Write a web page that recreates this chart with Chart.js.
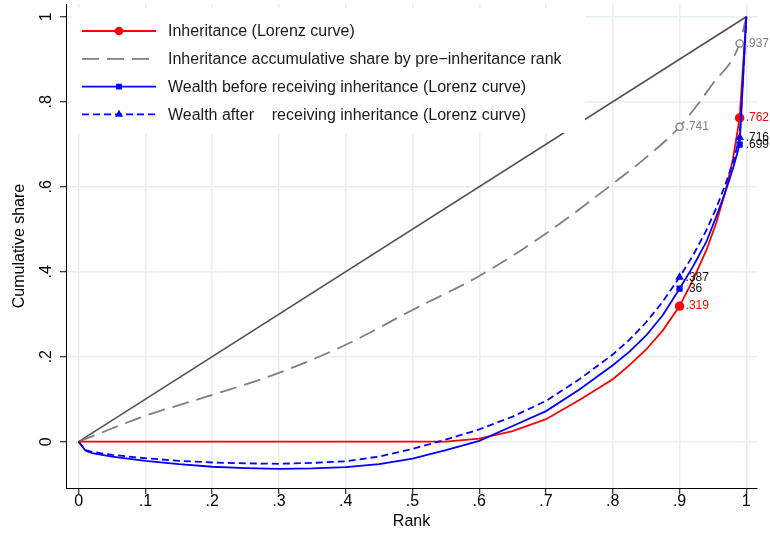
<!DOCTYPE html>
<html><head><meta charset="utf-8">
<script src="https://cdn.jsdelivr.net/npm/chart.js@4/dist/chart.umd.min.js"></script>
<style>html,body{margin:0;padding:0;background:#fff}#wrap{width:770px;height:537px}</style>
</head><body><div id="wrap"><canvas id="c" width="770" height="537"></canvas></div>
<script>
// ---- data ----
const xTicks = [0, 0.1, 0.2, 0.3, 0.4, 0.5, 0.6, 0.7, 0.8, 0.9, 1];
const yTicks = [0, 0.2, 0.4, 0.6, 0.8, 1];
const markerRanks = [0.9, 0.99];

const equalityRank  = [0, 1];
const equalityShare = [0, 1];

const inhRank  = [0, 0.55, 0.6, 0.65, 0.7, 0.75, 0.8, 0.825, 0.85, 0.875, 0.9, 0.92, 0.94, 0.955, 0.968, 0.98, 0.99, 1];
const inhShare = [0, 0, 0.007, 0.025, 0.053, 0.098, 0.147, 0.18, 0.217, 0.262, 0.319, 0.38, 0.45, 0.515, 0.585, 0.665, 0.762, 1];

const inhByPreRank  = [0, 0.1, 0.2, 0.3, 0.4, 0.5, 0.6, 0.7, 0.8, 0.85, 0.9, 0.95, 0.99, 1];
const inhByPreShare = [0, 0.061, 0.11, 0.162, 0.228, 0.31, 0.39, 0.49, 0.607, 0.669, 0.741, 0.843, 0.937, 1];

const wBeforeRank  = [0, 0.01, 0.02, 0.05, 0.1, 0.15, 0.2, 0.25, 0.3, 0.35, 0.4, 0.45, 0.5, 0.55, 0.6, 0.65, 0.7, 0.75, 0.8, 0.825, 0.85, 0.875, 0.9, 0.92, 0.94, 0.955, 0.968, 0.98, 0.99, 1];
const wBeforeShare = [0, -0.021, -0.027, -0.035, -0.045, -0.053, -0.059, -0.062, -0.064, -0.063, -0.06, -0.053, -0.04, -0.02, 0.002, 0.037, 0.072, 0.123, 0.18, 0.212, 0.25, 0.298, 0.36, 0.412, 0.47, 0.53, 0.585, 0.643, 0.699, 1];

const wAfterRank  = [0, 0.01, 0.02, 0.05, 0.1, 0.15, 0.2, 0.25, 0.3, 0.35, 0.4, 0.45, 0.5, 0.55, 0.6, 0.65, 0.7, 0.75, 0.8, 0.825, 0.85, 0.875, 0.9, 0.92, 0.94, 0.955, 0.968, 0.98, 0.99, 1];
const wAfterShare = [0, -0.02, -0.024, -0.031, -0.039, -0.045, -0.049, -0.051, -0.052, -0.05, -0.046, -0.035, -0.017, 0.005, 0.029, 0.059, 0.096, 0.147, 0.205, 0.24, 0.281, 0.33, 0.387, 0.438, 0.497, 0.55, 0.603, 0.657, 0.716, 1];

const seriesNames = [
  'Inheritance (Lorenz curve)',
  'Inheritance accumulative share by pre\u2212inheritance rank',
  'Wealth before receiving inheritance (Lorenz curve)',
  'Wealth after    receiving inheritance (Lorenz curve)'
];

// ---- helpers ----
const pts = (xs, ys) => xs.map((x, i) => ({x: x, y: ys[i]}));
const fmt = v => {
  if (Math.abs(v) < 1e-9) return '0';
  if (Math.abs(v - 1) < 1e-9) return '1';
  return String(+v.toFixed(3)).replace(/^0/, '').replace(/^-0/, '-');
};
const isMarked = c => c.raw && markerRanks.includes(c.raw.x);

const FONT = '"Liberation Sans", Arial, Helvetica, sans-serif';

const styles = [
  {color: '#ff0000', dash: [], width: 1.8, style: 'circle', r: 4, fill: '#ff0000', label: '#ff0000', smooth: false},
  {color: '#808080', dash: [17, 8], width: 1.8, style: 'circle', r: 3.6, fill: '#ffffff', label: '#808080', smooth: true},
  {color: '#0000ff', dash: [], width: 1.8, style: 'rect', r: 3.4, fill: '#0000ff', label: '#111111', smooth: false},
  {color: '#0000ff', dash: [7, 4], width: 1.8, style: 'triangle', r: 3.6, fill: '#0000ff', label: '#111111', smooth: false}
];

function mkSet(i, data) {
  const s = styles[i];
  const ds = {
    label: seriesNames[i],
    data: data,
    borderColor: s.color,
    borderWidth: s.width,
    borderDash: s.dash,
    backgroundColor: s.fill,
    pointStyle: s.style,
    pointBackgroundColor: s.fill,
    pointBorderColor: s.color,
    pointBorderWidth: 1.4,
    pointRadius: c => isMarked(c) ? s.r : 0,
    pointHoverRadius: 0,
    fill: false,
    tension: 0,
    showValueLabels: true,
    valueColor: s.label
  };
  if (s.smooth) ds.cubicInterpolationMode = 'monotone';
  return ds;
}

const datasets = [
  mkSet(3, pts(wAfterRank, wAfterShare)),
  mkSet(2, pts(wBeforeRank, wBeforeShare)),
  mkSet(0, pts(inhRank, inhShare)),
  mkSet(1, pts(inhByPreRank, inhByPreShare)),
  {
    label: 'equality',
    data: pts(equalityRank, equalityShare),
    borderColor: '#505050',
    borderWidth: 1.5,
    pointRadius: 0,
    fill: false,
    showValueLabels: false
  }
];

// value labels next to marked points
const valueLabels = {
  id: 'valueLabels',
  afterDatasetsDraw(chart) {
    const ctx = chart.ctx;
    ctx.save();
    ctx.font = '12px ' + FONT;
    ctx.textBaseline = 'middle';
    ctx.textAlign = 'left';
    chart.data.datasets.forEach((ds, di) => {
      if (!ds.showValueLabels) return;
      const meta = chart.getDatasetMeta(di);
      ds.data.forEach((p, i) => {
        if (!markerRanks.includes(p.x)) return;
        const el = meta.data[i];
        ctx.fillStyle = ds.valueColor;
        ctx.fillText(fmt(p.y), el.x + 6, el.y);
      });
    });
    ctx.restore();
  }
};

function drawMarker(ctx, s, x, y) {
  ctx.save();
  ctx.setLineDash([]);
  ctx.fillStyle = s.fill;
  ctx.strokeStyle = s.color;
  ctx.lineWidth = 1.4;
  ctx.beginPath();
  if (s.style === 'circle') {
    ctx.arc(x, y, s.r, 0, Math.PI * 2);
  } else if (s.style === 'rect') {
    const h = s.r * Math.SQRT1_2;
    ctx.rect(x - h, y - h, 2 * h, 2 * h);
  } else {
    const r = s.r;
    ctx.moveTo(x, y - r);
    ctx.lineTo(x + r * 0.866, y + r * 0.5);
    ctx.lineTo(x - r * 0.866, y + r * 0.5);
    ctx.closePath();
  }
  ctx.fill();
  ctx.stroke();
  ctx.restore();
}

// legend inside the plot region (white box)
const boxLegend = {
  id: 'boxLegend',
  afterDatasetsDraw(chart) {
    const ctx = chart.ctx;
    ctx.save();
    ctx.fillStyle = '#ffffff';
    ctx.fillRect(72, 8, 513, 125);
    seriesNames.forEach((name, i) => {
      const s = styles[i];
      const y = 31 + i * 27.8;
      ctx.strokeStyle = s.color;
      ctx.lineWidth = s.width;
      ctx.setLineDash(s.dash);
      ctx.beginPath();
      ctx.moveTo(82, y);
      ctx.lineTo(156, y);
      ctx.stroke();
      ctx.setLineDash([]);
      if (i !== 1) drawMarker(ctx, Object.assign({}, s, {r: s.r * 0.9}), 119, y);
      ctx.fillStyle = '#1a1a1a';
      ctx.font = '16px ' + FONT;
      ctx.textBaseline = 'middle';
      ctx.textAlign = 'left';
      ctx.fillText(name, 168, y + 1);
    });
    ctx.restore();
  }
};

new Chart(document.getElementById('c'), {
  type: 'line',
  data: {datasets: datasets},
  plugins: [boxLegend, valueLabels],
  options: {
    responsive: false,
    devicePixelRatio: 1,
    animation: false,
    events: [],
    layout: {padding: {top: 4, right: 13, left: 0, bottom: 0}},
    plugins: {legend: {display: false}, tooltip: {enabled: false}},
    scales: {
      x: {
        type: 'linear',
        min: -0.019,
        max: 1.016,
        afterBuildTicks: s => { s.ticks = xTicks.map(v => ({value: v})); },
        afterFit: s => { s.height = 49; s.paddingLeft = 0; s.paddingRight = 0; },
        grid: {color: '#e8eff1', lineWidth: 1.5, tickColor: '#000', tickLength: 6, tickWidth: 1},
        border: {display: true, color: '#000', width: 1},
        ticks: {color: '#000', font: {size: 16, family: FONT}, padding: -2, maxRotation: 0, autoSkip: false, callback: v => fmt(v)},
        title: {display: true, text: 'Rank', color: '#000', font: {size: 16, family: FONT}, padding: {top: 0, bottom: 6}}
      },
      y: {
        type: 'linear',
        min: -0.109,
        max: 1.03,
        afterBuildTicks: s => { s.ticks = yTicks.map(v => ({value: v})); },
        afterFit: s => { s.width = 66; s.paddingTop = 0; s.paddingBottom = 0; },
        grid: {color: '#e8eff1', lineWidth: 1.5, tickColor: '#000', tickLength: 6, tickWidth: 1},
        border: {display: true, color: '#000', width: 1},
        ticks: {color: '#000', font: {size: 16, family: FONT}, padding: 7, minRotation: 90, maxRotation: 90, crossAlign: 'center', autoSkip: false, callback: v => fmt(v)},
        title: {display: true, text: 'Cumulative share', color: '#000', font: {size: 16, family: FONT}, padding: {top: 10, bottom: 0}}
      }
    }
  }
});
</script>
</body></html>
